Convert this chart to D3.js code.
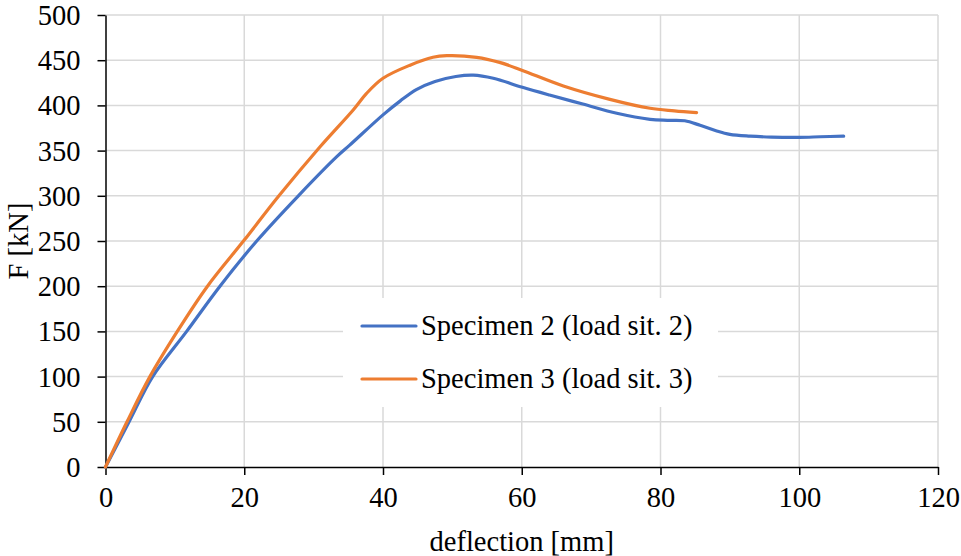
<!DOCTYPE html>
<html>
<head>
<meta charset="utf-8">
<script src="https://cdn.jsdelivr.net/npm/d3@7"></script>
<style>
  html, body { margin: 0; padding: 0; background: #fff; }
  svg { display: block; font-family: "Liberation Serif", "Times New Roman", serif; }
</style>
</head>
<body>
<svg id="chart" width="961" height="556"></svg>
<script>
// Load–deflection curves of the two tested specimens
const spec2Deflection = [0, 3.4, 6.8, 11.7, 16.5, 21.8, 27.8, 33.3, 35.2, 40, 42.5, 44.8, 47.5, 50.5, 53, 55.9, 60.1, 64, 68.8, 73.7, 78.5, 81, 83.5, 85.7, 88, 90, 92.9, 96, 100, 103, 106.4];
const spec2Force      = [0, 50, 100, 150, 200, 250, 300, 343, 356, 389.5, 405, 417.5, 426.5, 432, 433.5, 430, 420, 411.5, 401.5, 391.3, 384.6, 383.5, 383, 378, 372, 368, 366, 365, 364.7, 365.3, 366];

const spec3Deflection = [0, 3.1, 6.4, 10.35, 14.7, 20, 25, 30.9, 35.7, 37.6, 40, 43.9, 47.2, 49.2, 53.5, 56.8, 60, 66, 72.7, 78.5, 82, 85.2];
const spec3Force      = [0, 50, 100, 150, 200, 251, 300, 354, 395, 413, 430, 444.5, 453.2, 455, 453.2, 447.6, 439, 421.5, 406.7, 396.8, 394, 392];

const seriesNames = ["Specimen 2 (load sit. 2)", "Specimen 3 (load sit. 3)"];
const seriesColors = ["#4472C4", "#ED7D31"];

const xTicks = [0, 20, 40, 60, 80, 100, 120];
const yTicks = [0, 50, 100, 150, 200, 250, 300, 350, 400, 450, 500];
const xTitle = "deflection [mm]";
const yTitle = "F [kN]";

const series = [
  { name: seriesNames[0], color: seriesColors[0], pts: spec2Deflection.map((d, i) => [d, spec2Force[i]]) },
  { name: seriesNames[1], color: seriesColors[1], pts: spec3Deflection.map((d, i) => [d, spec3Force[i]]) }
];

const svg = d3.select("#chart");
const plot = { left: 105.5, right: 938, top: 15, bottom: 467 };

const x = d3.scaleLinear().domain([0, 120]).range([plot.left, plot.right]);
const y = d3.scaleLinear().domain([0, 500]).range([plot.bottom, plot.top]);

const fontSize = 28.5;
const serif = "'Liberation Serif', 'Times New Roman', serif";

// Gridlines
const grid = svg.append("g");
grid.selectAll("line.h").data(yTicks.slice(1)).join("line")
  .attr("x1", plot.left).attr("x2", plot.right)
  .attr("y1", d => y(d)).attr("y2", d => y(d))
  .attr("stroke", "#d9d9d9").attr("stroke-width", 1.5);
grid.selectAll("line.v").data(xTicks.slice(1)).join("line")
  .attr("x1", d => x(d)).attr("x2", d => x(d))
  .attr("y1", plot.top).attr("y2", plot.bottom)
  .attr("stroke", "#d9d9d9").attr("stroke-width", 1.5);

// Axes
const yAxis = d3.axisLeft(y).tickValues(yTicks).tickSize(8).tickSizeOuter(0).tickPadding(17);
const xAxis = d3.axisBottom(x).tickValues(xTicks).tickSize(8).tickSizeOuter(0).tickPadding(12);

const gy = svg.append("g").attr("transform", `translate(${plot.left},0)`).call(yAxis);
const gx = svg.append("g").attr("transform", `translate(0,${plot.bottom})`).call(xAxis);

[gx, gy].forEach(g => {
  g.attr("font-family", serif);
  g.selectAll(".domain").attr("stroke", "#000").attr("stroke-width", 1.5);
  g.selectAll(".tick line").attr("stroke", "#000").attr("stroke-width", 1.5);
  g.selectAll(".tick text")
    .attr("fill", "#000")
    .style("font-family", serif)
    .style("font-size", fontSize + "px");
});
gy.selectAll(".tick text").attr("dy", "0.33em");
gx.selectAll(".tick text").attr("dy", "0.7em");

// Axis titles
svg.append("text")
  .attr("x", (plot.left + plot.right) / 2).attr("y", 551)
  .attr("text-anchor", "middle")
  .style("font-family", serif)
  .style("font-size", fontSize + "px")
  .text(xTitle);

svg.append("text")
  .attr("transform", `translate(28,${(plot.top + plot.bottom) / 2}) rotate(-90)`)
  .attr("text-anchor", "middle")
  .style("font-family", serif)
  .style("font-size", fontSize + "px")
  .text(yTitle);

// Curves
const line = d3.line()
  .x(d => x(d[0]))
  .y(d => y(d[1]))
  .curve(d3.curveCatmullRom.alpha(0.5));

svg.append("g").selectAll("path").data(series).join("path")
  .attr("d", d => line(d.pts))
  .attr("fill", "none")
  .attr("stroke", d => d.color)
  .attr("stroke-width", 3.2)
  .attr("stroke-linecap", "round")
  .attr("stroke-linejoin", "round");

// Legend
const legend = svg.append("g");
legend.append("rect")
  .attr("x", 343).attr("y", 298).attr("width", 375).attr("height", 109)
  .attr("fill", "#fff");
const items = legend.selectAll("g.item").data(series).join("g")
  .attr("transform", (d, i) => `translate(0,${326 + i * 53})`);
items.append("line")
  .attr("x1", 362).attr("x2", 416).attr("y1", 0).attr("y2", 0)
  .attr("stroke", d => d.color).attr("stroke-width", 3.2)
  .attr("stroke-linecap", "round");
items.append("text")
  .attr("x", 421).attr("y", 9)
  .style("font-family", serif)
  .style("font-size", fontSize + "px")
  .text(d => d.name);
</script>
</body>
</html>
